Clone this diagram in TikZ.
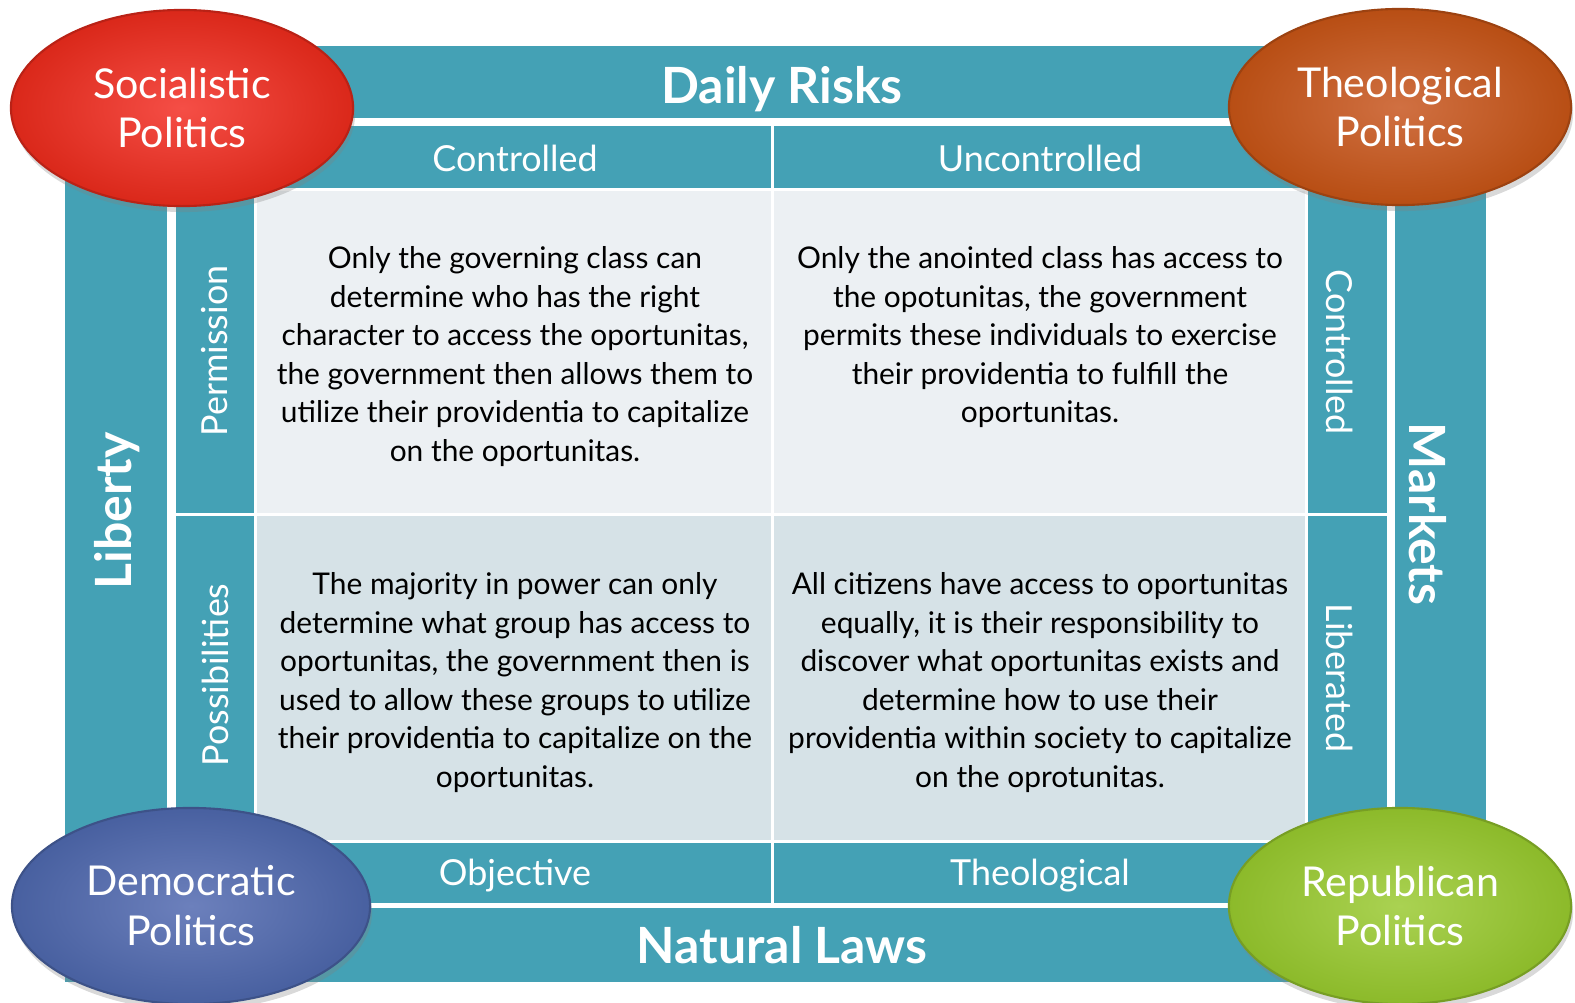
\documentclass[tikz,border=0pt]{standalone}
\usepackage{fontspec}
\setmainfont{Lato}
\usetikzlibrary{shapes.geometric,shadows}

\definecolor{frameteal}{RGB}{68,161,181}
\definecolor{celltop}{RGB}{236,240,243}
\definecolor{cellbot}{RGB}{214,226,231}
\definecolor{socin}{RGB}{245,78,70}
\definecolor{socout}{RGB}{218,40,26}
\definecolor{theoin}{RGB}{208,112,66}
\definecolor{theoout}{RGB}{184,78,20}
\definecolor{demin}{RGB}{108,128,188}
\definecolor{demout}{RGB}{72,96,160}
\definecolor{repin}{RGB}{170,210,82}
\definecolor{repout}{RGB}{140,186,42}

\tikzset{
 polblob/.style={ellipse, minimum width=3.42cm, minimum height=1.96cm,
   inner sep=0pt, text=white, align=center,
   font=\fontsize{11.7}{14.2}\selectfont, line width=0.6pt,
   drop shadow={shadow xshift=0.02cm, shadow yshift=-0.06cm, opacity=0.3}},
 bartext/.style={text=white, font=\fontsize{10.2}{12}\selectfont},
 bigtext/.style={text=white, font=\bfseries\fontsize{14.2}{17}\selectfont},
 celltext/.style={anchor=north, align=center, inner sep=0pt,
   font=\fontsize{8.5}{10.95}\selectfont},
 cellbox/.style={draw=white, line width=0.03cm}
}

\begin{document}
\begin{tikzpicture}[x=0.01cm,y=-0.01cm]
\useasboundingbox (0,0) rectangle (1575,1003);

% outer ring, gap, inner ring
\fill[frameteal] (65,46) rectangle (1486,982);
\fill[white] (167,118) rectangle (1395,908);
\fill[frameteal] (176,126) rectangle (1387,903);

% the four cells
\path[cellbox,fill=celltop] (255,189) rectangle (772,514);
\path[cellbox,fill=celltop] (772,189) rectangle (1306,514);
\path[cellbox,fill=cellbot] (255,514) rectangle (772,841);
\path[cellbox,fill=cellbot] (772,514) rectangle (1306,841);
\draw[white,line width=0.03cm] (772,126) -- (772,903);
\draw[white,line width=0.03cm] (176,514) -- (1387,514);

% bar labels
\node[bigtext] (risks) at (782,89) {Daily Risks};
\node[bigtext] (laws) at (782,945) {Natural Laws};
\node[bigtext,rotate=90] (liberty) at (117,511) {Liberty};
\node[bigtext,rotate=-90] (markets) at (1428,514) {Markets};

\node[bartext] (ctrltop) at (515,158) {Controlled};
\node[bartext] (unctrl) at (1040,158) {Uncontrolled};
\node[bartext] (objective) at (515,876) {Objective};
\node[bartext] (theolaw) at (1040,876) {Theological};
\node[bartext,rotate=90] (permission) at (215,351) {Permission};
\node[bartext,rotate=90] (possible) at (215,675) {Possibilities};
\node[bartext,rotate=-90] (ctrlside) at (1340,352) {Controlled};
\node[bartext,rotate=-90] (liberated) at (1340,678) {Liberated};

% cell texts
\node[celltext] (tltext) at (515,246) {Only the governing class can\\
 determine who has the right\\ character to access the oportunitas,\\
 the government then allows them to\\ utilize their providentia to capitalize\\
 on the oportunitas.};
\node[celltext] (trtext) at (1040,246) {Only the anointed class has access to\\
 the opotunitas, the government\\ permits these individuals to exercise\\
 their providentia to fulfill the\\ oportunitas.};
\node[celltext] (bltext) at (515,572) {The majority in power can only\\
 determine what group has access to\\ oportunitas, the government then is\\
 used to allow these groups to utilize\\ their providentia to capitalize on the\\
 oportunitas.};
\node[celltext] (brtext) at (1040,572) {All citizens have access to oportunitas\\
 equally, it is their responsibility to\\ discover what oportunitas exists and\\
 determine how to use their\\ providentia within society to capitalize\\
 on the oprotunitas.};

% corner politics
\node[polblob,draw=socout!85!black,inner color=socin,outer color=socout]
 (socialistic) at (182,108) {Socialistic\\Politics};
\node[polblob,draw=theoout!85!black,inner color=theoin,outer color=theoout]
 (theological) at (1400,107) {Theological\\Politics};
\node[polblob,draw=demout!85!black,inner color=demin,outer color=demout,
 minimum width=3.58cm] (democratic) at (191,906) {Democratic\\Politics};
\node[polblob,draw=repout!85!black,inner color=repin,outer color=repout]
 (republican) at (1400,906) {Republican\\Politics};
\end{tikzpicture}
\end{document}
